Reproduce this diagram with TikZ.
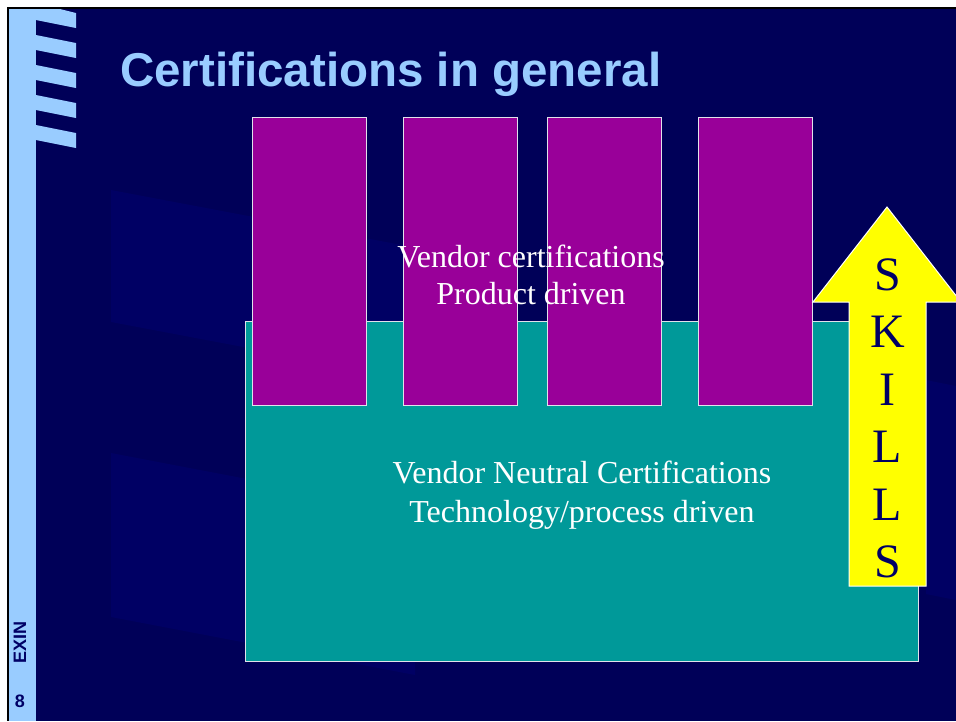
\documentclass[tikz,border=0pt]{standalone}
\usepackage{fontspec}
\setmainfont{Liberation Serif}
\setsansfont{Liberation Sans}
\definecolor{bgnavy}{RGB}{0,0,88}
\definecolor{bglight}{RGB}{0,0,100}
\definecolor{barblue}{RGB}{153,204,255}
\definecolor{vpurple}{RGB}{153,0,153}
\definecolor{nteal}{RGB}{0,153,153}
\definecolor{skyellow}{RGB}{255,255,0}
\definecolor{txtnavy}{RGB}{0,0,102}
\definecolor{edgegrey}{RGB}{225,225,235}
\begin{document}
\begin{tikzpicture}[x=1pt,y=-1pt,
  vbox/.style={draw=edgegrey, line width=1pt, fill=vpurple, inner sep=0pt,
    anchor=north west, minimum width=114pt, minimum height=288pt},
  nbox/.style={draw=edgegrey, line width=1pt, fill=nteal, inner sep=0pt,
    anchor=north west, minimum width=673pt, minimum height=340pt},
  boxtext/.style={text=white, font=\fontsize{32}{37}\selectfont, inner sep=0pt, anchor=base},
  skill/.style={text=txtnavy, font=\fontsize{48}{50}\selectfont, inner sep=0pt, anchor=base},
  sidetext/.style={text=txtnavy, font=\sffamily\bfseries\fontsize{18}{20}\selectfont, inner sep=0pt},
  titletext/.style={text=barblue, font=\sffamily\bfseries\fontsize{47.5}{50}\selectfont, inner sep=0pt, anchor=base west}
]
\useasboundingbox (0,0) rectangle (956,721);
% page and frame
\fill[white] (0,0) rectangle (956,721);
\fill[bgnavy] (9,9) rectangle (956,721);
\fill[black] (7,7) rectangle (956,9);
\fill[black] (7,7) rectangle (9,721);
% faint background blocks
\fill[bglight] (111,190) -- (460,256) -- (460,388) -- (111,322) -- cycle;
\fill[bglight] (111,453) -- (415,511) -- (415,675) -- (111,617) -- cycle;
\fill[bglight] (926,380) -- (956,386) -- (956,600) -- (926,594) -- cycle;
% left bar with stripes
\fill[barblue] (9,9) rectangle (36,721);
\fill[barblue] (36,9) -- (60,9) -- (76,13) -- (76,28) -- (36,20) -- cycle;
\foreach \k in {1,...,4} {
  \fill[barblue] (36,5+30*\k) -- (76,13+30*\k) -- (76,28+30*\k) -- (36,20+30*\k) -- cycle;
}
\node[sidetext, rotate=90] (exin) at (20,642) {EXIN};
\node[sidetext] (pagenum) at (20,701) {8};
% title
\node[titletext] (title) at (120,86.5) {Certifications in general};
% neutral base
\node[nbox] (neutral) at (245,321) {};
% vendor columns
\node[vbox] (v1) at (252,117) {};
\node[vbox] (v2) at (403,117) {};
\node[vbox] (v3) at (547,117) {};
\node[vbox] (v4) at (698,117) {};
% texts
\node[boxtext] (vt1) at (531,267) {Vendor certifications};
\node[boxtext] (vt2) at (531,304) {Product driven};
\node[boxtext] (nt1) at (582,483) {Vendor Neutral Certifications};
\node[boxtext] (nt2) at (582,522) {Technology/process driven};
% skills arrow
\draw[draw=white, line width=1pt, fill=skyellow, line join=miter]
  (849,586) -- (849,302) -- (813,302) -- (887,207) -- (961,302) -- (926,302) -- (926,586) -- cycle;
\node[skill] (s1) at (887.5,290) {S};
\node[skill] (s2) at (887.5,347.5) {K};
\node[skill] (s3) at (887.5,405) {I};
\node[skill] (s4) at (887.5,462.5) {L};
\node[skill] (s5) at (887.5,520) {L};
\node[skill] (s6) at (887.5,577.5) {S};
\end{tikzpicture}
\end{document}
